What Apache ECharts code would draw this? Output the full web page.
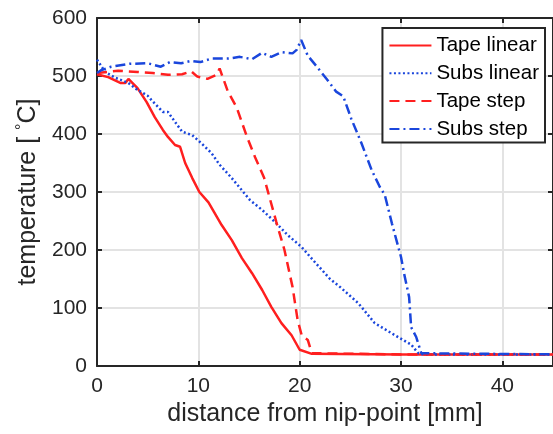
<!DOCTYPE html>
<html>
<head>
<meta charset="utf-8">
<script src="https://cdn.jsdelivr.net/npm/echarts@6/dist/echarts.min.js"></script>
<style>html,body{margin:0;padding:0;background:#fff}#c{width:553px;height:434px}</style>
</head>
<body>
<div id="c"></div>
<script>
var seriesNames = ['Tape linear', 'Subs linear', 'Tape step', 'Subs step'];
var xTicks = [0, 10, 20, 30, 40];
var yTicks = [0, 100, 200, 300, 400, 500, 600];

var tapeLinearX = [0, 1.1, 2.3, 2.8, 3.1, 4.0, 4.9, 5.7, 6.5, 7.0, 7.7, 8.2, 8.7, 9.4, 10.1, 11.0, 12.3, 13.3, 14.3, 15.3, 16.3, 17.2, 18.2, 19.2, 20.0, 21.2, 30, 45];
var tapeLinearY = [503, 498, 488, 488, 495, 479, 455, 429, 407, 395, 381, 378, 350, 324, 300, 282, 243, 217, 186, 160, 131, 102, 74, 53, 28, 21, 20, 20];

var subsLinearX = [0, 0.8, 1.8, 3.1, 4.0, 5.0, 5.4, 6.5, 7.0, 7.9, 8.4, 9.4, 10.3, 11.3, 12.1, 13.3, 15.1, 16.3, 17.7, 18.8, 20.2, 21.3, 23.0, 24.0, 25.8, 27.4, 29.5, 31.0, 31.7, 32.2, 45];
var subsLinearY = [528, 507, 497, 488, 476, 466, 458, 438, 438, 416, 404, 398, 384, 367, 347, 324, 286, 269, 246, 226, 205, 183, 150, 136, 108, 74, 52, 37, 22, 20, 20];

var tapeStepX = [0, 2.1, 4.0, 5.5, 7.0, 8.4, 9.3, 9.9, 10.9, 11.8, 12.1, 12.9, 13.8, 14.8, 15.6, 16.5, 17.7, 18.5, 19.3, 19.8, 20.2, 20.8, 21.2, 30, 45];
var tapeStepY = [505, 509, 507, 505, 502, 503, 508, 499, 495, 502, 513, 474, 445, 395, 360, 324, 248, 200, 136, 79, 53, 45, 22, 20, 20];

var subsStepX = [0, 0.4, 1.4, 3.2, 5.0, 6.3, 7.2, 8.3, 9.3, 10.2, 11.3, 13.0, 14.1, 15.3, 16.3, 17.2, 18.2, 19.3, 19.7, 20.15, 20.8, 21.7, 22.7, 23.6, 24.3, 25.1, 26.1, 27.1, 27.9, 28.4, 29.1, 30.0, 30.3, 30.8, 31.0, 31.5, 32.0, 45];
var subsStepY = [505, 510, 516, 521, 522, 516, 524, 522, 526, 524, 530, 530, 533, 529, 540, 533, 541, 539, 545, 562, 535, 516, 494, 473, 465, 426, 384, 338, 309, 295, 246, 188, 160, 119, 67, 50, 22, 20];

function pairs(xs, ys) { return xs.map(function (x, i) { return [x, ys[i]]; }); }

var RED = '#ff1f1f', BLUE = '#1a46dc', AX = '#262626', GRID = '#e3e3e3';
var FONT = 'Liberation Sans';

var chart = echarts.init(document.getElementById('c'), null, {renderer: 'canvas'});

function mkSeries(name, xs, ys, color, type) {
  return {
    name: name, type: 'line', data: pairs(xs, ys), symbol: 'none', showSymbol: false,
    xAxisIndex: 0, yAxisIndex: 0, animation: false,
    lineStyle: {color: color, width: 2.5, type: type}, itemStyle: {color: color}
  };
}

var option = {
  animation: false,
  backgroundColor: '#fff',
  grid: {left: 97, top: 18, right: 0, bottom: 68, containLabel: false, outerBoundsMode: 'none'},
  legend: {
    orient: 'vertical', right: 8, top: 28,
    data: seriesNames,
    backgroundColor: '#fff', borderColor: AX, borderWidth: 2,
    padding: [7, 6, 3, 6], itemWidth: 42, itemHeight: 14, itemGap: 6.8,
    itemStyle: {opacity: 0},
    textStyle: {fontFamily: FONT, fontSize: 20.5, color: '#000'}
  },
  xAxis: [{
    type: 'value', min: 0, max: 45, interval: 10, position: 'bottom',
    name: 'distance from nip-point [mm]', nameLocation: 'middle', nameGap: 31,
    nameTextStyle: {fontFamily: FONT, fontSize: 25, color: AX},
    axisLine: {show: true, onZero: false, lineStyle: {color: AX, width: 2}},
    axisTick: {show: true, inside: true, length: 5, lineStyle: {color: AX, width: 2}},
    axisLabel: {fontFamily: FONT, fontSize: 21, color: AX, margin: 10, showMaxLabel: false},
    splitLine: {show: true, lineStyle: {color: GRID, width: 2}}
  }, {
    type: 'value', min: 0, max: 45, interval: 10, position: 'top',
    axisLine: {show: true, onZero: false, lineStyle: {color: AX, width: 2}},
    axisTick: {show: true, inside: true, length: 5, lineStyle: {color: AX, width: 2}},
    axisLabel: {show: false}, splitLine: {show: false}
  }],
  yAxis: [{
    type: 'value', min: 0, max: 600, interval: 100, position: 'left',
    name: '{a|temperature [ }{s|°}{a|C]}', nameLocation: 'middle', nameGap: 47, nameRotate: 90,
    nameTextStyle: {
      fontFamily: FONT, fontSize: 25, color: AX,
      rich: {
        a: {fontFamily: FONT, fontSize: 25, color: AX, lineHeight: 28},
        s: {fontFamily: FONT, fontSize: 16, color: AX, lineHeight: 28, verticalAlign: 'top', padding: [0, 0, 10, 0]}
      }
    },
    axisLine: {show: true, onZero: false, lineStyle: {color: AX, width: 2}},
    axisTick: {show: true, inside: true, length: 5, lineStyle: {color: AX, width: 2}},
    axisLabel: {fontFamily: FONT, fontSize: 21, color: AX, margin: 10},
    splitLine: {show: true, lineStyle: {color: GRID, width: 2}}
  }, {
    type: 'value', min: 0, max: 600, interval: 100, position: 'right',
    axisLine: {show: true, onZero: false, lineStyle: {color: AX, width: 2}},
    axisTick: {show: true, inside: true, length: 5, lineStyle: {color: AX, width: 2}},
    axisLabel: {show: false}, splitLine: {show: false}
  }],
  series: [
    mkSeries(seriesNames[0], tapeLinearX, tapeLinearY, RED, 'solid'),
    mkSeries(seriesNames[1], subsLinearX, subsLinearY, BLUE, [2, 2.5]),
    mkSeries(seriesNames[2], tapeStepX, tapeStepY, RED, [10, 6]),
    mkSeries(seriesNames[3], subsStepX, subsStepY, BLUE, [10, 4, 2, 4])
  ]
};
chart.setOption(option);
</script>
</body>
</html>
